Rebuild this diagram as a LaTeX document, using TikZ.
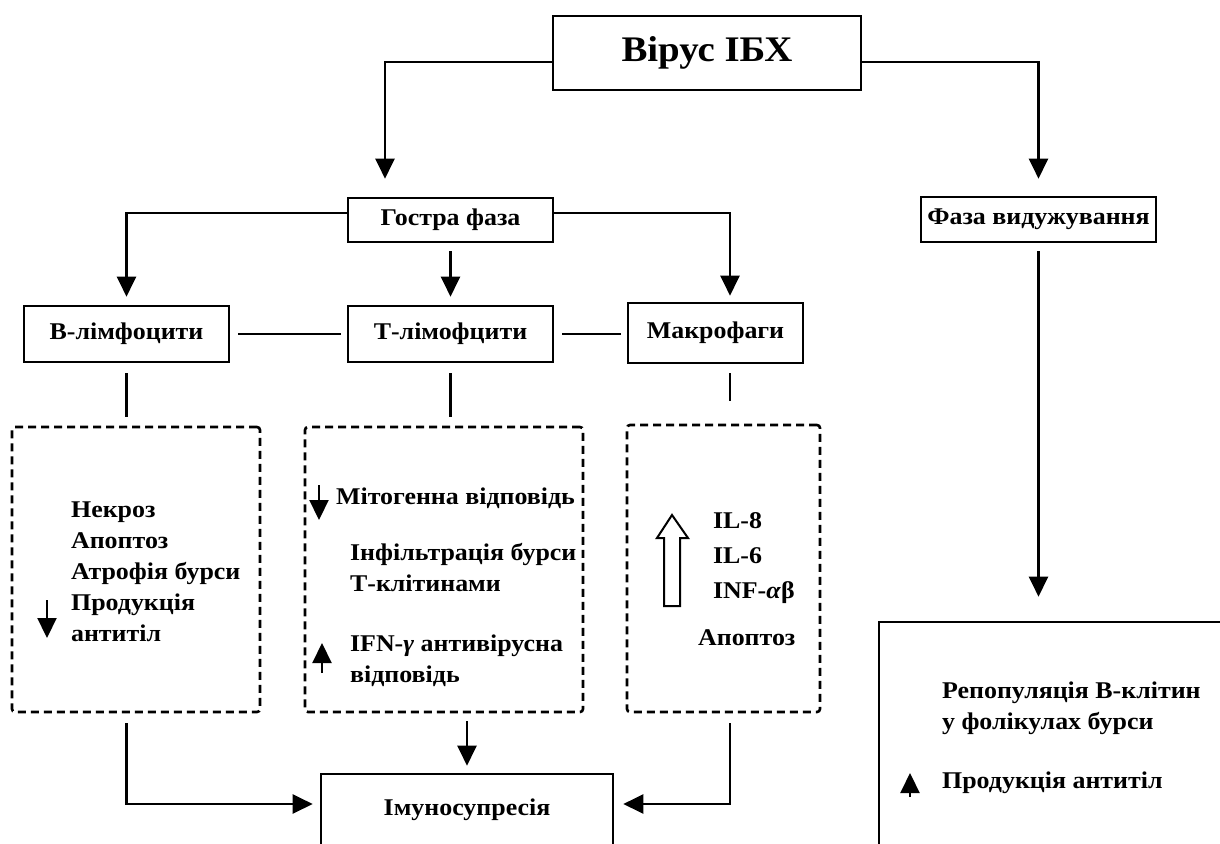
\documentclass[tikz,border=0pt]{standalone}
\usepackage{fontspec}
\setmainfont[FakeStretch=1.08]{Liberation Serif}
\usetikzlibrary{arrows.meta}

\begin{document}
\begin{tikzpicture}[x=1pt,y=-1pt,->,>={Triangle[length=20pt,width=19pt]},line width=2.2pt,font=\bfseries\fontsize{24}{31}\selectfont]
        \tikzstyle{box}=[draw,line width=2.6pt,inner sep=0pt]
        \tikzstyle{dbox}=[draw,dash pattern=on 8pt off 5pt,line width=2.6pt,rounded corners=3pt]
        \tikzstyle{txt}=[anchor=west,align=left,inner sep=0pt]
        \clip (0,0) rectangle (1220,843);

        \node[box,minimum width=308pt,minimum height=74pt,font=\bfseries\fontsize{36}{40}\selectfont] (0) at (707,53) {Вірус ІБХ};
        \node[box,minimum width=205pt,minimum height=44pt] (1) at (450.5,220) {Гостра фаза};
        \node[box,minimum width=235pt,minimum height=45pt] (2) at (1038.5,219.5) {Фаза видужування};

        \node[box,minimum width=205pt,minimum height=56pt] (10) at (126.5,334) {В-лімфоцити};
        \node[box,minimum width=205pt,minimum height=56pt] (11) at (450.5,334) {Т-лімофцити};
        \node[box,minimum width=175pt,minimum height=60pt] (12) at (715.5,333) {Макрофаги};

        \node[dbox,minimum width=248pt,minimum height=285pt] (20) at (136,569.5) {};
        \node[dbox,minimum width=278pt,minimum height=285pt] (21) at (444,569.5) {};
        \node[dbox,minimum width=193pt,minimum height=287pt] (22) at (723.5,568.5) {};

        \node[box,minimum width=292pt,minimum height=72pt] (30) at (467,810) {Імуносупресія};
        \node[box,minimum width=360pt,minimum height=250pt] (31) at (1059,747) {};

        \node[txt] (20a) at (70,572) {Некроз\\Апоптоз\\Атрофія бурси\\Продукція\\антитіл};
        \node[txt] (21a) at (335,498) {Мітогенна відповідь};
        \node[txt] (21b) at (349,568) {Інфільтрація бурси\\Т-клітинами};
        \node[txt] (21c) at (349,661) {IFN-\textit{γ} антивірусна\\відповідь};
        \node[txt,font=\bfseries\fontsize{24}{35}\selectfont] (22a) at (712,558) {IL-8\\IL-6\\INF-\textit{α}β};
        \node[txt] (22b) at (697,638) {Апоптоз};
        \node[txt] (31a) at (941,708) {Репопуляція В-клітин\\у фолікулах бурси};
        \node[txt] (31b) at (941,783) {Продукція антитіл};

        \draw[shorten >=18pt] ([yshift=-9pt]0.west) -| ([xshift=-65.5pt]1.north);
        \draw[shorten >=17pt] ([yshift=-9pt]0.east) -| (2.north);
        \draw[shorten >=8pt] ([yshift=7pt]1.west) -| (10.north);
        \draw[shorten <=8pt,shorten >=8pt] (1.south) -- (11.north);
        \draw[shorten >=6pt] ([yshift=7pt]1.east) -| ([xshift=14.5pt]12.north);
        \draw[-,shorten <=8pt,shorten >=6pt] (10.east) -- (11.west);
        \draw[-,shorten <=8pt,shorten >=6pt] (11.east) -- (11.east -| 12.west);

        \draw[-,shorten <=10pt,shorten >=9pt] (10.south) -- (10.south |- 20.north);
        \draw[-,shorten <=10pt,shorten >=9pt] (11.south) -- (11.south |- 21.north);
        \draw[-,shorten <=9pt,shorten >=23pt] ([xshift=14.5pt]12.south) -- ([xshift=14.5pt]12.south |- 22.north);

        \draw[shorten <=10pt,shorten >=7pt] (10.south |- 20.south) |- ([yshift=6pt]30.west);
        \draw[shorten <=8pt,shorten >=7pt] (30.north |- 21.south) -- (30.north);
        \draw[shorten <=10pt,shorten >=9pt] ([xshift=14.5pt]12.south |- 22.south) |- ([yshift=6pt]30.east);
        \draw[shorten <=8pt,shorten >=24pt] (2.south) -- (2.south |- 31.north);

        \draw (47,600) -- (47,638);
        \draw (319,485) -- (319,520);
        \draw (322,673) -- (322,643);
        \draw (910,797) -- (910,773);
        \draw[-,line width=2pt] (664,606) -- (664,538) -- (657,538) -- (672,515) -- (688,538) -- (680,538) -- (680,606) -- cycle;
    \end{tikzpicture}
\end{document}
